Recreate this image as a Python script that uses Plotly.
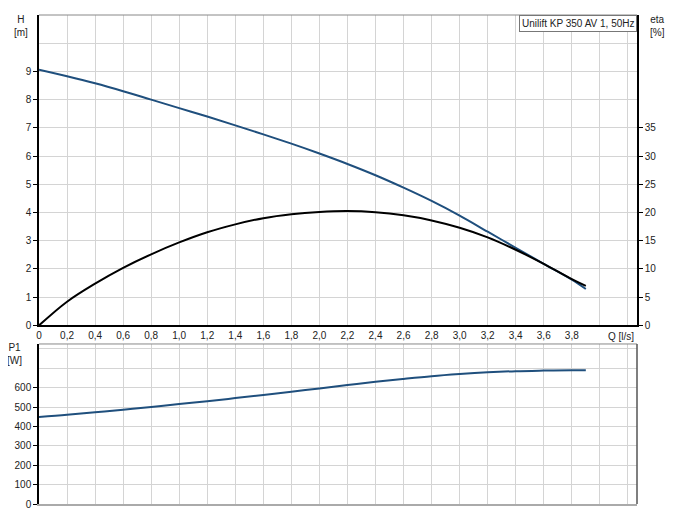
import plotly.graph_objects as go

# ---- data ----
flow_q = [0, 0.2, 0.4, 0.6, 0.8, 1.0, 1.2, 1.4, 1.6, 1.8, 2.0, 2.2, 2.4, 2.6, 2.8, 3.0, 3.2, 3.4, 3.6, 3.8, 3.9]
head_h = [9.06, 8.83, 8.58, 8.30, 8.00, 7.70, 7.40, 7.09, 6.77, 6.44, 6.09, 5.72, 5.32, 4.88, 4.41, 3.89, 3.32, 2.75, 2.18, 1.62, 1.29]
eta_pct = [0, 4.2, 7.4, 10.2, 12.6, 14.7, 16.5, 17.9, 19.0, 19.7, 20.1, 20.25, 20.05, 19.5, 18.6, 17.3, 15.6, 13.4, 10.9, 8.2, 7.0]
power_p1 = [449, 460, 473, 486, 500, 515, 530, 546, 562, 579, 596, 613, 630, 645, 659, 670, 679, 685, 688, 690, 690]

q_ticks = [0, 0.2, 0.4, 0.6, 0.8, 1.0, 1.2, 1.4, 1.6, 1.8, 2.0, 2.2, 2.4, 2.6, 2.8, 3.0, 3.2, 3.4, 3.6, 3.8]
q_ticktext = ["0" if v == 0 else f"{v:.1f}".replace(".", ",") for v in q_ticks]
q_extra_grid = [4.0, 4.2]
h_ticks = [0, 1, 2, 3, 4, 5, 6, 7, 8, 9]
h_extra_grid = [10, 11]
eta_ticks = [0, 5, 10, 15, 20, 25, 30, 35]
p_ticks = [0, 100, 200, 300, 400, 500, 600]
p_extra_grid = [700, 800]

title_text = "Unilift KP 350 AV 1, 50Hz"

BLUE = "#1f4f7d"
GRID = "#d4d4d4"
FONT = "Liberation Sans, Arial, sans-serif"
TXT = "#222222"

OFF = 8  # page body margin
W, H = 673 - 2 * OFF, 524 - 2 * OFF
ML = 37.5 - OFF
MT = 15 - OFF
MR = W - (637 - OFF)
MB = H - (507 - OFF)
PW = W - ML - MR
PH = H - MT - MB


def py(ref_pix):
    return (H - MB - (ref_pix - OFF)) / PH


def px(ref_pix):
    return ((ref_pix - OFF) - ML) / PW


fig = go.Figure()
fig.add_trace(go.Scatter(x=flow_q, y=head_h, mode="lines", line=dict(color=BLUE, width=2, shape="spline"),
                         xaxis="x", yaxis="y", name="H"))
fig.add_trace(go.Scatter(x=flow_q, y=eta_pct, mode="lines", line=dict(color="black", width=2, shape="spline"),
                         xaxis="x", yaxis="y2", name="eta"))
fig.add_trace(go.Scatter(x=flow_q, y=power_p1, mode="lines", line=dict(color=BLUE, width=2, shape="spline"),
                         xaxis="x2", yaxis="y3", name="P1"))

top_dom = [py(327.3), 1.0]
bot_dom = [0.0, py(346)]
xrange_ = [0, 4.265]

fig.update_layout(
    width=W, height=H,
    margin=dict(l=ML, r=MR, t=MT, b=MB, pad=0),
    paper_bgcolor="white", plot_bgcolor="white",
    showlegend=False,
    font=dict(family=FONT, size=10, color=TXT),
    xaxis=dict(domain=[0, 1], range=xrange_, anchor="y",
               tickvals=q_ticks, ticktext=q_ticktext, ticks="", showgrid=True,
               gridcolor=GRID, gridwidth=1, showline=True, linecolor="black", linewidth=1.5,
               zeroline=False, tickfont=dict(size=10, color=TXT),
               minor=dict(tickvals=q_extra_grid, showgrid=True, gridcolor=GRID, ticks="")),
    yaxis=dict(domain=top_dom, range=[0, 11], anchor="x",
               tickvals=h_ticks, ticks="outside", ticklen=4, tickcolor="black",
               showgrid=True, gridcolor=GRID, showline=True, linecolor="black", linewidth=1.5,
               zeroline=False, tickfont=dict(size=10, color=TXT),
               minor=dict(tickvals=h_extra_grid, showgrid=True, gridcolor=GRID, ticks="")),
    yaxis2=dict(overlaying="y", side="right", anchor="x", range=[0, 55],
                tickvals=eta_ticks, ticks="outside", ticklen=4, tickcolor="black",
                showgrid=False, showline=True, linecolor="black", linewidth=1.5,
                zeroline=False, tickfont=dict(size=10, color=TXT)),
    xaxis2=dict(domain=[0, 1], range=xrange_, anchor="y3",
                tickvals=q_ticks, showticklabels=False, ticks="", showgrid=True,
                gridcolor=GRID, showline=True, linecolor="#aaaaaa", linewidth=1.5,
                zeroline=False,
                minor=dict(tickvals=q_extra_grid, showgrid=True, gridcolor=GRID, ticks="")),
    yaxis3=dict(domain=bot_dom, range=[0, 825], anchor="x2",
                tickvals=p_ticks, ticks="outside", ticklen=4, tickcolor="black",
                showgrid=True, gridcolor=GRID, showline=True, linecolor="black", linewidth=1.5,
                zeroline=False, tickfont=dict(size=10, color=TXT),
                minor=dict(tickvals=p_extra_grid, showgrid=True, gridcolor=GRID, ticks="")),
)

# frame edges
fig.add_shape(type="line", xref="paper", yref="paper", x0=0, x1=1, y0=1, y1=1,
              line=dict(color="#888888", width=1))
fig.add_shape(type="line", xref="paper", yref="paper", x0=0, x1=1, y0=bot_dom[1], y1=bot_dom[1],
              line=dict(color="#888888", width=1))
fig.add_shape(type="line", xref="paper", yref="paper", x0=1, x1=1, y0=0, y1=bot_dom[1],
              line=dict(color="#555555", width=1.5))

# axis captions
fig.add_annotation(text="H<br>[m]", xref="paper", yref="paper", x=px(19), y=py(26),
                   xanchor="center", yanchor="middle",
                   showarrow=False, align="center", font=dict(size=10, color=TXT))
fig.add_annotation(text="eta<br>[%]", xref="paper", yref="paper", x=px(658), y=py(26),
                   xanchor="center", yanchor="middle",
                   showarrow=False, align="center", font=dict(size=10, color=TXT))
fig.add_annotation(text="P1<br>[W]", xref="paper", yref="paper", x=px(13), y=py(356),
                   xanchor="center", yanchor="middle",
                   showarrow=False, align="center", font=dict(size=10, color=TXT))
fig.add_annotation(text="Q [l/s]", xref="paper", yref="paper", x=px(606), y=py(338),
                   xanchor="left", yanchor="middle", showarrow=False, font=dict(size=10, color=TXT))

# title box
fig.add_annotation(text=title_text, xref="paper", yref="paper", x=1, y=1,
                   xanchor="right", yanchor="top", showarrow=False,
                   bgcolor="white", bordercolor="#777777", borderwidth=1, borderpad=2,
                   font=dict(size=10, color=TXT))

fig.write_html("out.html")
